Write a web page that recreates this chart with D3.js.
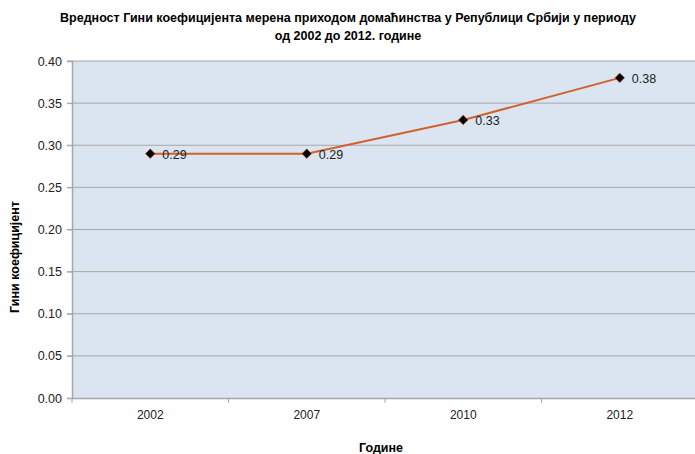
<!DOCTYPE html>
<html>
<head>
<meta charset="utf-8">
<title>Gini</title>
<script src="https://d3js.org/d3.v7.min.js"></script>
<style>
  body { margin: 0; background: #fff; }
  text { font-family: "Liberation Sans Narrow", "Arial Narrow", "Liberation Sans", sans-serif; }
</style>
</head>
<body>
<div id="chart"></div>
<script>
// data
const years = ["2002", "2007", "2010", "2012"];
const gini = [0.29, 0.29, 0.33, 0.38];
const yTicks = [0, 0.05, 0.10, 0.15, 0.20, 0.25, 0.30, 0.35, 0.40];

const width = 695, height = 454;
const mLeft = 72, mTop = 61, plotW = 626, plotH = 337;

const svg = d3.select("#chart").append("svg")
    .attr("width", width)
    .attr("height", height);

// title
svg.append("text")
    .attr("x", 348).attr("y", 22)
    .attr("text-anchor", "middle")
    .style("font-size", "12.5px").style("font-weight", "bold")
    .text("Вредност Гини коефицијента мерена приходом домаћинства у Републици Србији у периоду");
svg.append("text")
    .attr("x", 348).attr("y", 40)
    .attr("text-anchor", "middle")
    .style("font-size", "12.5px").style("font-weight", "bold")
    .text("од 2002 до 2012. године");

const x = d3.scaleBand().domain(years).range([mLeft, mLeft + plotW]);
const y = d3.scaleLinear().domain([0, 0.4]).range([mTop + plotH, mTop]);

// plot background
svg.append("rect")
    .attr("x", mLeft).attr("y", mTop)
    .attr("width", plotW).attr("height", plotH)
    .attr("fill", "#DBE5F1");

// gridlines
svg.selectAll(".grid")
  .data(yTicks.slice(1))
  .join("line")
    .attr("x1", mLeft - 5).attr("x2", mLeft + plotW)
    .attr("y1", d => y(d)).attr("y2", d => y(d))
    .attr("stroke", "#A6A6A6").attr("stroke-width", 1);

// y axis
const yAxis = svg.append("g")
    .attr("transform", `translate(${mLeft},0)`)
    .call(d3.axisLeft(y).tickValues(yTicks).tickFormat(d3.format(".2f")).tickSize(5).tickPadding(5));
yAxis.select(".domain").attr("stroke", "#A6A6A6").attr("stroke-width", 1.5);
yAxis.selectAll(".tick line").attr("stroke", "#A6A6A6");
yAxis.selectAll("text").attr("fill", "#222")
    .style("font-family", "'Liberation Sans', sans-serif").style("font-size", "12.5px");

// x axis
const xAxis = svg.append("g")
    .attr("transform", `translate(0,${mTop + plotH})`)
    .call(d3.axisBottom(x).tickSize(0).tickPadding(12));
xAxis.select(".domain").attr("stroke", "#A6A6A6").attr("stroke-width", 1.5);
xAxis.selectAll("text").attr("fill", "#222")
    .style("font-family", "'Liberation Sans', sans-serif").style("font-size", "12px");
svg.selectAll(".xtick")
  .data(years)
  .join("line")
    .attr("x1", d => x(d)).attr("x2", d => x(d))
    .attr("y1", mTop + plotH).attr("y2", mTop + plotH + 5)
    .attr("stroke", "#A6A6A6");

// axis titles
svg.append("text")
    .attr("x", 381).attr("y", 452)
    .attr("text-anchor", "middle")
    .style("font-size", "12.5px").style("font-weight", "bold")
    .text("Године");
svg.append("text")
    .attr("transform", "translate(19,257) rotate(-90)")
    .attr("text-anchor", "middle")
    .style("font-size", "12.5px").style("font-weight", "bold")
    .text("Гини коефицијент");

// line
const cx = d => x(d) + x.bandwidth() / 2;
const line = d3.line()
    .x((d, i) => cx(years[i]))
    .y(d => y(d));
svg.append("path")
    .datum(gini)
    .attr("d", line)
    .attr("fill", "none")
    .attr("stroke", "#D0622A")
    .attr("stroke-width", 2);

// markers
svg.selectAll(".pt")
  .data(gini)
  .join("path")
    .attr("d", d3.symbol().type(d3.symbolDiamond2).size(60))
    .attr("transform", (d, i) => `translate(${cx(years[i])},${y(d)})`)
    .attr("fill", "#000")
    .attr("stroke", "#D0622A").attr("stroke-width", 0.6);

// labels
svg.selectAll(".lbl")
  .data(gini)
  .join("text")
    .attr("x", (d, i) => cx(years[i]) + 12)
    .attr("y", d => y(d) + 5)
    .style("font-family", "'Liberation Sans', sans-serif").style("font-size", "12.5px")
    .attr("fill", "#222")
    .text(d => d.toFixed(2));
</script>
</body>
</html>
